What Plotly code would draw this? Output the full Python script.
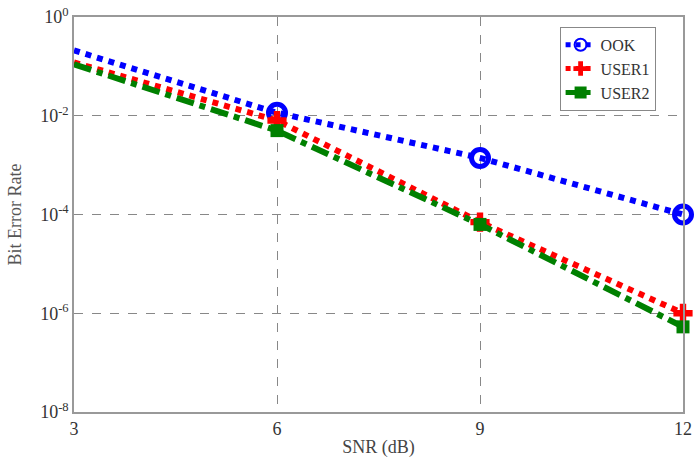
import plotly.graph_objects as go

snr = [3, 6, 9, 12]
ook = [0.21, 0.0115, 1.4e-3, 1.0e-4]
user1 = [0.12, 8.0e-3, 7.0e-5, 1.0e-6]
user2 = [0.11, 5.0e-3, 6.3e-5, 5.3e-7]
ytick_vals = [1e-8, 1e-6, 1e-4, 1e-2, 1e0]
ytick_text = ["10<sup>-8</sup>", "10<sup>-6</sup>", "10<sup>-4</sup>", "10<sup>-2</sup>", "10<sup>0</sup>"]
xtick_vals = [3, 6, 9, 12]


def sizes(s):
    return [0] + [s] * (len(snr) - 1)


font = "Liberation Serif"
fig = go.Figure()
fig.add_trace(go.Scatter(x=snr, y=ook, name="OOK", mode="lines+markers", cliponaxis=False,
                         line=dict(color="#0000ff", width=6, dash="dot"),
                         marker=dict(symbol="circle-open", size=sizes(17), color="#0000ff", opacity=1,
                                     line=dict(width=5, color="#0000ff"))))
fig.add_trace(go.Scatter(x=snr, y=user1, name="USER1", mode="lines+markers", cliponaxis=False,
                         line=dict(color="#ff0000", width=6, dash="dot"),
                         marker=dict(symbol="cross", size=sizes(16), color="#ff0000", opacity=1,
                                     line=dict(width=0))))
fig.add_trace(go.Scatter(x=snr, y=user2, name="USER2", mode="lines+markers", cliponaxis=False,
                         line=dict(color="#008000", width=6, dash="dashdot"),
                         marker=dict(symbol="square", size=sizes(13), color="#008000", opacity=1,
                                     line=dict(width=0))))

fig.update_layout(
    width=695, height=462,
    margin=dict(l=74, r=12, t=17, b=50, autoexpand=False),
    paper_bgcolor="white", plot_bgcolor="white",
    font=dict(family=font, size=16, color="#333333"),
    showlegend=True,
    legend=dict(x=0.955, y=0.975, xanchor="right", yanchor="top",
                bordercolor="#888888", borderwidth=1, bgcolor="white",
                font=dict(size=16, family=font, color="#333333"),
                itemwidth=30, tracegroupgap=0, itemsizing="constant"),
    xaxis=dict(range=[3, 12], tickvals=xtick_vals, showgrid=True, automargin=False,
               gridcolor="#888888", griddash="dash", gridwidth=1,
               showline=True, linecolor="#999999", linewidth=1.5, mirror=True,
               ticks="", zeroline=False,
               title=dict(text="SNR (dB)", font=dict(size=18, family=font, color="#444444"), standoff=2),
               tickfont=dict(size=18, family=font, color="#333333")),
    yaxis=dict(type="log", range=[-8, 0], tickvals=ytick_vals, ticktext=ytick_text,
               showgrid=True, gridcolor="#888888", griddash="dash", gridwidth=1, automargin=False,
               showline=True, linecolor="#999999", linewidth=1.5, mirror=True,
               ticks="", zeroline=False,
               title=dict(text="Bit Error Rate", font=dict(size=18, family=font, color="#555555"), standoff=14),
               tickfont=dict(size=18, family=font, color="#333333")),
)
fig.write_html("out.html")
